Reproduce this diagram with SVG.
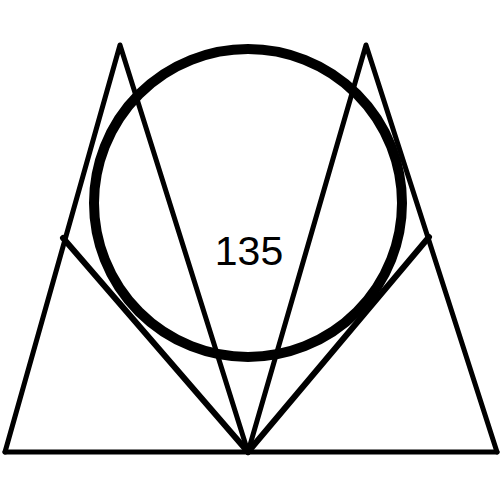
<svg xmlns="http://www.w3.org/2000/svg" width="500" height="500" viewBox="0 0 500 500">
<style>
.ln{stroke:#000;stroke-width:5;fill:none;stroke-linecap:round;stroke-linejoin:round}
.tg{stroke:#000;stroke-width:6;fill:none;stroke-linecap:round}
.cir{stroke:#000;stroke-width:10;fill:none}
.lbl{font-family:"Liberation Sans",Arial,sans-serif;font-size:41px;fill:#000;text-anchor:middle}
</style>
<rect width="500" height="500" fill="#fff"/>
<g id="connectors">
<line class="ln" x1="5" y1="452" x2="497" y2="452"/>
<polyline class="ln" points="5,452 120,45 248,452 366,45 497,452"/>
<line class="tg" x1="63" y1="238" x2="248" y2="452"/>
<line class="tg" x1="429" y1="237" x2="248" y2="452"/>
</g>
<g id="circle">
<circle class="cir" cx="248" cy="203" r="154"/>
<text class="lbl" x="249" y="265">135</text>
</g>
</svg>
